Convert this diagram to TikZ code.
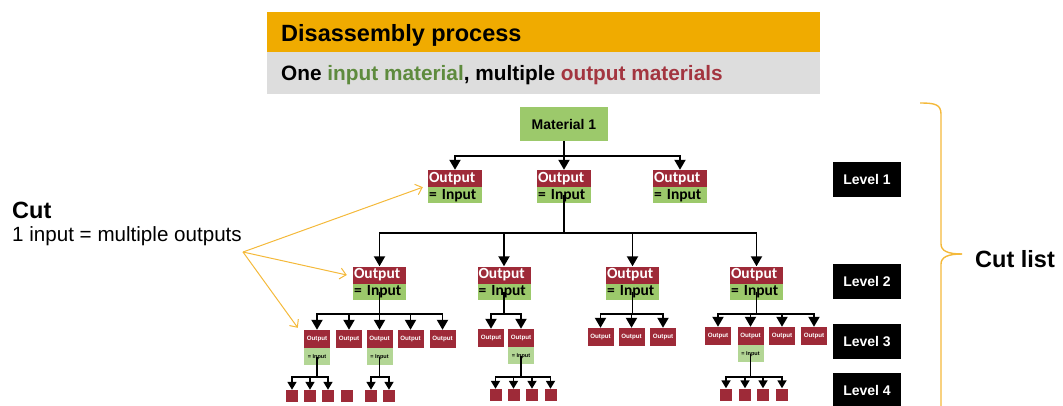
\documentclass[tikz,border=0pt]{standalone}
\usepackage{fontspec}
\setmainfont{Liberation Sans}
\newfontfamily\calfont{Carlito}
\usetikzlibrary{arrows.meta}
\newcommand\myfs[1]{\fontsize{#1}{#1}\selectfont}
\definecolor{corange}{HTML}{F0AB00}
\definecolor{cgray}{HTML}{DDDDDD}
\definecolor{cred}{HTML}{9E2A38}
\definecolor{cgreen}{HTML}{9CC96B}
\definecolor{cgreenl}{HTML}{B3D695}
\definecolor{tgreen}{HTML}{5E8B3E}
\definecolor{tred}{HTML}{A33540}
\definecolor{cyel}{HTML}{F4B93A}
\tikzset{
  outL/.style={fill=cred, text=white, text width=52pt, align=left, minimum height=17pt, inner ysep=0pt, inner xsep=1pt, font=\calfont\bfseries\myfs{15.5}},
  inL/.style={fill=cgreen, text=black, text width=52pt, align=left, minimum height=16pt, inner ysep=0pt, inner xsep=1pt, anchor=north, font=\calfont\bfseries\myfs{15.5}},
  smout/.style={fill=cred, text=white, minimum width=26pt, minimum height=18pt, inner sep=0pt, font=\bfseries\myfs{6.2}},
  smin/.style={fill=cgreenl, text=black, minimum width=26pt, minimum height=17pt, inner sep=0pt, anchor=north, font=\bfseries\myfs{5.5}},
  tiny/.style={fill=cred, minimum width=12pt, minimum height=12pt, inner sep=0pt},
  matbox/.style={fill=cgreen, minimum width=88pt, minimum height=34pt, inner sep=0pt, font=\bfseries\myfs{14}},
  lvl/.style={fill=black, text=white, minimum width=68pt, minimum height=35pt, inner sep=0pt, font=\bfseries\myfs{14}},
  tree/.style={line width=1.9pt, -{Triangle[width=11pt,length=10pt]}},
  treesm/.style={line width=1.7pt, -{Triangle[width=9pt,length=8pt]}},
  cutarrow/.style={draw=cyel, line width=1pt, -{Straight Barb[length=6pt,width=11pt]}},
}
\begin{document}
\begin{tikzpicture}[x=1pt,y=-1pt]
\useasboundingbox (0,0) rectangle (1063,405);
% header
\node[fill=corange, minimum width=553pt, minimum height=40pt, inner sep=0pt, anchor=north west] (hdr) at (267,12) {};
\node[fill=cgray, minimum width=553pt, minimum height=42pt, inner sep=0pt, anchor=north west] (sub) at (267,52) {};
\node[anchor=west, inner sep=0pt, font=\bfseries\myfs{23.5}] (ttl) at (281,35) {Disassembly process};
\node[anchor=west, inner sep=0pt, font=\bfseries\myfs{20.8}] (stl) at (281,75) {One \textcolor{tgreen}{input material}, multiple \textcolor{tred}{output materials}};
% material
\node[matbox] (m) at (564,124) {Material 1};
% level 1
\foreach \n/\x in {1/455,2/564,3/680}{
  \node[outL] (o1\n) at (\x,178.5) {Output};
  \node[inL] (i1\n) at (o1\n.south) {= Input};
}
\coordinate (b1) at (564,156);
\foreach \n in {1,2,3}{\draw[tree] (m.south) -- (m.south |- b1) -| (o1\n.north);}
% level 2
\foreach \n/\x in {1/379.5,2/504,3/632.5,4/756.5}{
  \node[outL, text width=51pt] (o2\n) at (\x,275) {Output};
  \node[inL, text width=51pt] (i2\n) at (o2\n.south) {= Input};
}
\coordinate (b2) at (564,233);
\foreach \n in {1,2,3,4}{\draw[tree] (i12.center) -- (i12.center |- b2) -| (o2\n.north);}
% level 3
\foreach \n/\x in {1/317,2/349,3/379.5,4/410.5,5/442.5}{\node[smout] (a\n) at (\x,339) {Output};}
\foreach \n/\x in {1/491,2/521}{\node[smout] (b\n) at (\x,338) {Output};}
\foreach \n/\x in {1/600.5,2/631.5,3/663}{\node[smout] (c\n) at (\x,337) {Output};}
\foreach \n/\x in {1/718,2/750.5,3/782,4/814}{\node[smout] (d\n) at (\x,336) {Output};}
\node[smin] (ai1) at (a1.south) {= Input};
\node[smin] (ai3) at (a3.south) {= Input};
\node[smin] (bi2) at (b2.south) {= Input};
\node[smin] (di2) at (d2.south) {= Input};
\coordinate (b3) at (0,314);
\foreach \n in {1,...,5}{\draw[tree] (i21.center) -- (i21.center |- b3) -| (a\n.north);}
\foreach \n in {1,2}{\draw[tree] (i22.center) -- (i22.center |- b3) -| (b\n.north);}
\foreach \n in {1,2,3}{\draw[tree] (i23.center) -- (i23.center |- b3) -| (c\n.north);}
\foreach \n in {1,...,4}{\draw[tree] (i24.center) -- (i24.center |- b3) -| (d\n.north);}
% level 4
\foreach \n/\x in {1/292,2/310,3/328,4/347}{\node[tiny] (aa\n) at (\x,396) {};}
\foreach \n/\x in {1/371,2/389}{\node[tiny] (ab\n) at (\x,396) {};}
\foreach \n/\x in {1/495.5,2/513.5,3/532,4/550.5}{\node[tiny] (ba\n) at (\x,395) {};}
\foreach \n/\x in {1/726,2/745,3/763,4/782}{\node[tiny] (da\n) at (\x,394.5) {};}
\coordinate (b4) at (0,377);
\foreach \n in {1,2,3}{\draw[treesm] (ai1.center) -- (ai1.center |- b4) -| (aa\n.north);}
\foreach \n in {1,2}{\draw[treesm] (ai3.center) -- (ai3.center |- b4) -| (ab\n.north);}
\foreach \n in {1,...,4}{\draw[treesm] (bi2.center) -- (bi2.center |- b4) -| (ba\n.north);}
\foreach \n in {1,...,4}{\draw[treesm] (di2.center) -- (di2.center |- b4) -| (da\n.north);}
% level labels
\node[lvl] (L1) at (867,179) {Level 1};
\node[lvl] (L2) at (867,281.5) {Level 2};
\node[lvl] (L3) at (867,341.5) {Level 3};
\node[lvl] (L4) at (867,390.5) {Level 4};
% brace
\coordinate (bt) at (920,103);
\coordinate (bm) at (962,254);
\coordinate (bb) at (941,412);
\draw[cyel, line width=1.4pt] (bt) .. controls (934,103) and (941,104) .. (941,114) -- (941,244) .. controls (941,251) and (948,254) .. (bm);
\draw[cyel, line width=1.4pt] (bm) .. controls (948,254) and (941,257) .. (941,264) -- (bb);
\node[anchor=west, inner sep=0pt, font=\bfseries\myfs{23.5}] (cl) at (975,259) {Cut list};
% cut
\node[anchor=west, inner sep=0pt, font=\bfseries\myfs{23.5}] (cut) at (12,210) {Cut};
\node[anchor=west, inner sep=0pt, font=\myfs{20.6}] (cutd) at (12,236) {1 input = multiple outputs};
\coordinate (cs) at (243,252);
\draw[cutarrow] (cs) -- ([xshift=-5pt]o11.south west);
\draw[cutarrow] (cs) -- ([xshift=-6pt]o21.west);
\draw[cutarrow] (cs) -- ([xshift=-6pt,yshift=2pt]a1.north west);
\end{tikzpicture}
\end{document}
